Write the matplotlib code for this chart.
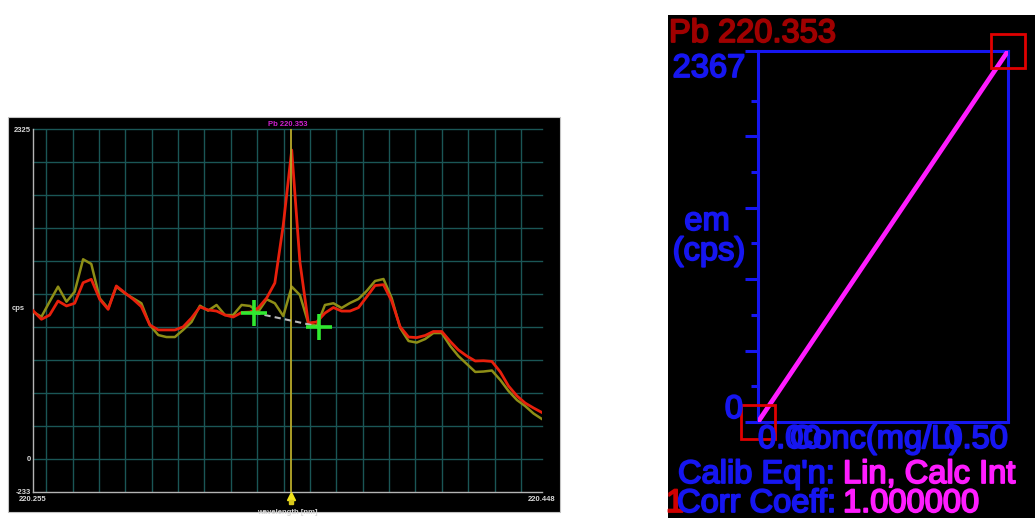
import numpy as np
import matplotlib
matplotlib.use("Agg")
import matplotlib.pyplot as plt
from matplotlib.patches import Rectangle
import matplotlib.transforms as mtransforms
import matplotlib.patheffects as pe

# ---------------- data ----------------
wavelength = [220.2550, 220.2582, 220.2613, 220.2645, 220.2677, 220.2708, 220.2740, 220.2771,
              220.2803, 220.2835, 220.2866, 220.2898, 220.2930, 220.2961, 220.2993, 220.3025,
              220.3056, 220.3088, 220.3119, 220.3151, 220.3183, 220.3214, 220.3246, 220.3278,
              220.3309, 220.3341, 220.3373, 220.3404, 220.3436, 220.3467, 220.3499, 220.3531,
              220.3562, 220.3594, 220.3626, 220.3657, 220.3689, 220.3720, 220.3752, 220.3784,
              220.3815, 220.3847, 220.3879, 220.3910, 220.3942, 220.3974, 220.4005, 220.4037,
              220.4068, 220.4100, 220.4132, 220.4163, 220.4195, 220.4227, 220.4258, 220.4290,
              220.4322, 220.4353, 220.4385, 220.4416, 220.4448, 220.4480]
sample_cps = [1045, 984, 1014, 1113, 1078, 1097, 1242, 1266, 1125, 1054, 1219, 1171, 1125, 1073,
              944, 909, 909, 909, 930, 993, 1071, 1050, 1042, 1014, 1000, 1032, 1035, 1064, 1134,
              1240, 1649, 2177, 1388, 958, 965, 1028, 1067, 1042, 1042, 1066, 1141, 1222, 1228,
              1113, 932, 859, 855, 870, 898, 898, 828, 768, 725, 690, 692, 687, 613, 514, 444,
              394, 359, 327]
blank_cps = [1037, 1002, 1108, 1214, 1108, 1178, 1407, 1374, 1132, 1061, 1214, 1167, 1132, 1097,
             944, 873, 859, 859, 909, 965, 1080, 1045, 1085, 1014, 1014, 1085, 1078, 1037, 1125,
             1097, 1007, 1214, 1155, 956, 937, 1085, 1097, 1064, 1099, 1127, 1183, 1254, 1268,
             1134, 923, 831, 820, 845, 887, 887, 796, 725, 669, 613, 616, 623, 556, 479, 415,
             373, 320, 281]
peak_wl = 220.353
bkg_wl = [220.3389, 220.3636]
bkg_cps = [1030, 932]
wl_range = [220.255, 220.448]
cps_range = [-233, 2325]
wl_grid = [220.26, 220.27, 220.28, 220.29, 220.30, 220.31, 220.32, 220.33, 220.34, 220.35,
           220.36, 220.37, 220.38, 220.39, 220.40, 220.41, 220.42, 220.43, 220.44]

calib_conc = [0.00, 0.50]
calib_cps = [0, 2367]

# ---------------- figure ----------------
plt.rcParams['font.family'] = ['Liberation Sans', 'DejaVu Sans']
W, H = 1035, 518
fig = plt.figure(figsize=(W / 100, H / 100), dpi=100, facecolor='white')


def fx(x):
    return x / W


def fy(y):
    return 1 - y / H


# panel backgrounds
fig.add_artist(Rectangle((fx(8), fy(512)), (560 - 8) / W, (512 - 117) / H,
                         transform=fig.transFigure, facecolor='black',
                         edgecolor='#c4c4c4', lw=0.8, zorder=0))
fig.add_artist(Rectangle((fx(668), 0), (W - 668) / W, (518 - 15) / H,
                         transform=fig.transFigure, facecolor='black',
                         edgecolor='none', zorder=0))

# ---------------- left: spectrum ----------------
ax1 = fig.add_axes([fx(33), fy(492), (542 - 33) / W, (492 - 129) / H])
ax1.set_facecolor('black')
ax1.set_xlim(*wl_range)
ax1.set_ylim(*cps_range)
for s in ['top', 'right']:
    ax1.spines[s].set_visible(False)
for s in ['left', 'bottom']:
    ax1.spines[s].set_color('#b4b4b4')
    ax1.spines[s].set_linewidth(1.0)

grid_col = '#1a5656'
for g in wl_grid:
    ax1.axvline(g, color=grid_col, lw=1.0, zorder=1)
for g in np.linspace(cps_range[0], cps_range[1], 12)[1:]:
    ax1.axhline(g, color=grid_col, lw=1.0, zorder=1, clip_on=False)

small = dict(fontsize=5.5, color='#d8d8d8', fontweight='bold')
ax1.set_xticks(wl_range, labels=['220.255', '220.448'])
ax1.set_yticks([cps_range[0], 0, cps_range[1]], labels=['-233', '0', '2325'])
ax1.tick_params(axis='both', length=0, labelsize=5.5, labelcolor='#d8d8d8')
ax1.tick_params(axis='x', pad=3)
ax1.tick_params(axis='y', pad=1.5)
for lab in ax1.get_xticklabels() + ax1.get_yticklabels():
    lab.set_fontweight('bold')
ax1.set_xlabel('wavelength [nm]', fontsize=5.5, color='#d8d8d8', labelpad=4, fontweight='bold')
fig.text(fx(18), fy(308), 'cps', ha='center', va='center', **small)
ax1.set_title('Pb 220.353', color='#d020d0', fontsize=5.5, pad=2, fontweight='bold')

ax1.plot(wavelength, blank_cps, color='#8e8e16', lw=1.8, zorder=3)
ax1.plot(wavelength, sample_cps, color='#e8200c', lw=2.0, zorder=4)
ax1.axvline(peak_wl, color='#b8aa2a', lw=1.3, zorder=5)
ax1.plot(bkg_wl, bkg_cps, color='#b8b8b8', lw=1.5, ls=(0, (3, 2)), zorder=5)
ax1.plot(bkg_wl, bkg_cps, ls='none', marker='+', ms=19, mew=2.6, color='#30e830', zorder=6)
tr = mtransforms.blended_transform_factory(ax1.transData, ax1.transAxes)
ax1.plot([peak_wl], [-0.012], transform=tr, marker='^', ms=6, color='#f2e41c',
         clip_on=False, zorder=7)
ax1.plot([peak_wl], [-0.028], transform=tr, marker='s', ms=3, color='#d8c81c',
         clip_on=False, zorder=7)

# ---------------- right: calibration ----------------
blue = '#1616f0'
mag = '#ff1cff'
ax2 = fig.add_axes([fx(758), fy(422), (1008 - 758) / W, (422 - 51) / H])
ax2.set_facecolor('black')
ax2.set_xlim(calib_conc[0], calib_conc[1])
ax2.set_ylim(calib_cps[0], calib_cps[1])
for s in ax2.spines.values():
    s.set_color(blue)
    s.set_linewidth(2.2)
step = 227.8
ax2.set_yticks([0, 2 * step, 4 * step, 6 * step, 8 * step, 2367])
ax2.set_yticks([step, 3 * step, 5 * step, 7 * step, 9 * step], minor=True)
ax2.set_xticks([])
ax2.tick_params(axis='y', which='major', length=9.5, width=2.2, color=blue, labelleft=False)
ax2.tick_params(axis='y', which='minor', length=5, width=2.2, color=blue)

ax2.plot(calib_conc, calib_cps, color=mag, lw=3.4, zorder=3)
ax2.plot(calib_conc, calib_cps, ls='none', marker='s', ms=25, mfc='none',
         mec='#e00000', mew=2, clip_on=False, zorder=4)

big = 23.5


def t(x, y, s, color, ha='left'):
    fig.text(fx(x), fy(y), s, color=color, fontsize=big, ha=ha, va='baseline',
             path_effects=[pe.withStroke(linewidth=1.3, foreground=color)])


t(669, 42, 'Pb 220.353', '#a00000')
t(745, 77, '2367', blue, 'right')
t(743, 418, '0', blue, 'right')
t(707, 230, 'em', blue, 'center')
t(709, 260, '(cps)', blue, 'center')
t(758, 448, '0.00', blue)
t(875, 448, 'Conc(mg/L)', blue, 'center')
t(1008, 448, '0.50', blue, 'right')
t(678, 483, "Calib Eq'n:", blue)
t(843, 483, 'Lin, Calc Int', mag)
t(666, 512, '1', '#d00000')
t(677, 512, 'Corr Coeff:', blue)
t(843, 512, '1.000000', mag)

fig.savefig('out.png', dpi=100, facecolor='white')
